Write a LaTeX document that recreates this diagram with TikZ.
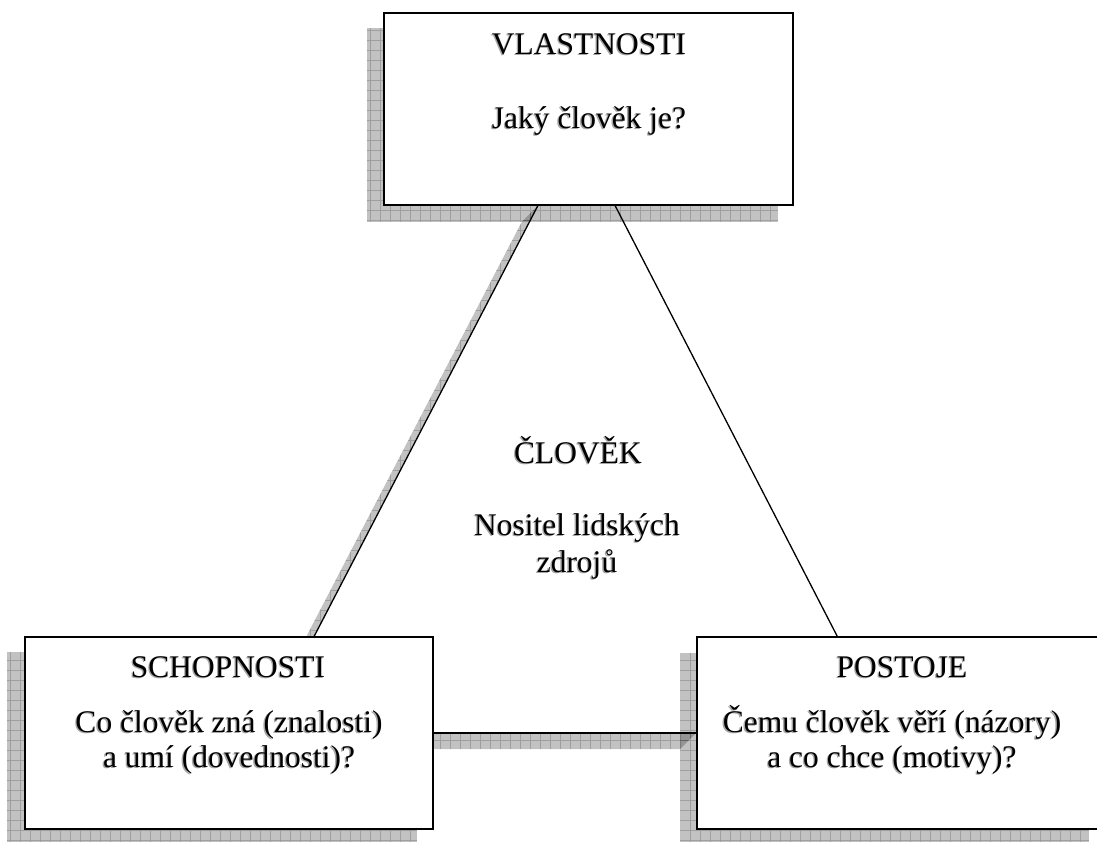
\documentclass[tikz,border=0pt]{standalone}
\usepackage{fontspec}
\setmainfont{Liberation Serif}
\usetikzlibrary{calc,backgrounds}

% text with a soft grey drop shadow down and to the left
\newcommand\shtx[1]{\makebox[0pt][l]{\kern-1.3pt\raisebox{-1.3pt}{\textcolor{black!35}{#1}}}#1}

\tikzset{
  card/.style={draw=black, line width=1.6pt, fill=white, rectangle, inner sep=0pt,
               minimum height=192pt},
  shade/.style={fill=black, fill opacity=0.24,
    path picture={\draw[black, draw opacity=0.18, line width=0.6pt]
      (path picture bounding box.south west) grid[step=10pt]
      (path picture bounding box.north east);}},
  txt/.style={font=\fontsize{31.5}{37}\selectfont, anchor=base, inner sep=0pt},
  link/.style={draw=black, line width=1.3pt}
}

\begin{document}
\begin{tikzpicture}[x=1pt, y=-1pt]
  \useasboundingbox (0,0) rectangle (1097,841);
  \clip (0,0) rectangle (1097,841);

  % the three boxes (the right one runs past the edge)
  \node[card, minimum width=409pt] (vl) at (588.5,109) {};
  \node[card, minimum width=408pt] (sch) at (229,733) {};
  \node[card, minimum width=440pt] (pos) at (917,733) {};

  % connector end points on the box edges
  \coordinate (a1) at ($(vl.south west)!0.3765!(vl.south east)$);
  \coordinate (a2) at ($(sch.north west)!0.708!(sch.north east)$);
  \coordinate (b1) at ($(vl.south west)!0.565!(vl.south east)$);
  \coordinate (b2) at ($(pos.north west)+(141,0)$);

  % drop shadows
  \begin{pgfonlayer}{background}
    \path[shade] ($(vl.south west)+(-16,16)$) rectangle ($(vl.north east)+(-16,16)$);
    \path[shade] ($(sch.south west)+(-17,16)$) rectangle ($(sch.north east)+(-17,16)$);
    \path[shade] ($(pos.south west)+(-16,17)$) rectangle ($(pos.north west)+(393,17)$);
    \path[shade] (a1) -- (a2) -- ($(a2)+(-16,16)$) -- ($(a1)+(-16,16)$) -- cycle;
    \path[shade] (sch.east) -- (pos.west) -- ($(pos.west)+(-16,16)$) -- ($(sch.east)+(-16,16)$) -- cycle;
  \end{pgfonlayer}

  % connectors
  \draw[link] (a1) -- (a2);
  \draw[link] (b1) -- (b2);
  \draw[link] (sch.east) -- (pos.west);

  % texts
  \node[txt] (t1) at (589,54) {\shtx{VLASTNOSTI}};
  \node[txt] (t2) at (589,128) {\shtx{Jaký člověk je?}};

  \node[txt] (c1) at (578,463) {\shtx{ČLOVĚK}};
  \node[txt] (c2) at (577,535) {\shtx{Nositel lidských}};
  \node[txt] (c3) at (577,572) {\shtx{zdrojů}};

  \node[txt] (s1) at (228,677) {\shtx{SCHOPNOSTI}};
  \node[txt] (s2) at (229,732) {\shtx{Co člověk zná (znalosti)}};
  \node[txt] (s3) at (229,767) {\shtx{a umí (dovednosti)?}};

  \node[txt] (p1) at (902,677) {\shtx{POSTOJE}};
  \node[txt] (p2) at (892,732) {\shtx{Čemu člověk věří (názory)}};
  \node[txt] (p3) at (892,767) {\shtx{a co chce (motivy)?}};
\end{tikzpicture}
\end{document}
